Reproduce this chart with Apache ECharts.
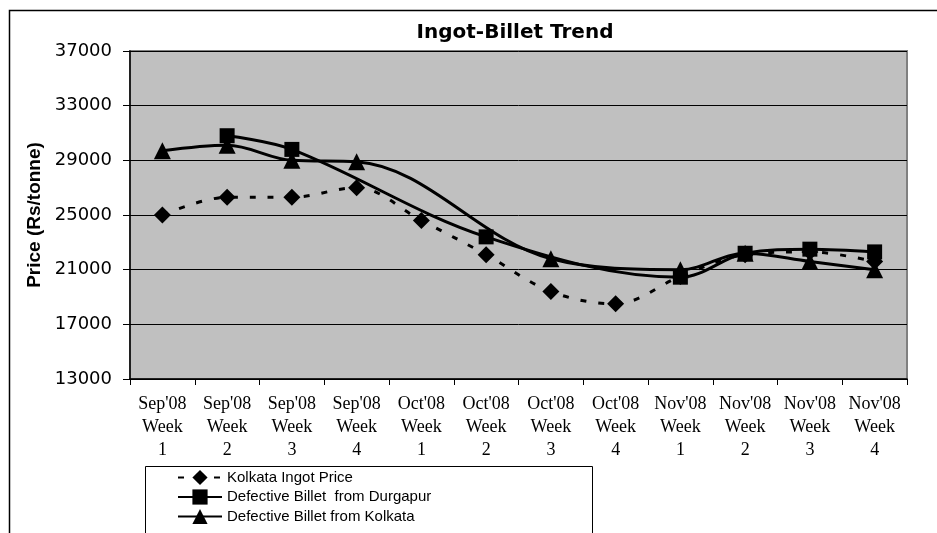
<!DOCTYPE html>
<html>
<head>
<meta charset="utf-8">
<script src="https://cdn.jsdelivr.net/npm/echarts@6/dist/echarts.min.js"></script>
<style>html,body{margin:0;padding:0;background:#fff;}#c{width:937px;height:533px;}</style>
</head>
<body>
<div id="c"></div>
<script>
const months = ["Sep'08","Sep'08","Sep'08","Sep'08","Oct'08","Oct'08","Oct'08","Oct'08","Nov'08","Nov'08","Nov'08","Nov'08"];
const weeks = [1,2,3,4,1,2,3,4,1,2,3,4];
const categories = months.map((m,i) => m + "\nWeek\n" + weeks[i]);
const seriesNames = ["Kolkata Ingot Price", "Defective Billet  from Durgapur", "Defective Billet from Kolkata"];
const kolkataIngot = [25000, 26300, 26300, 27000, 24600, 22100, 19400, 18500, 20500, 22100, 22300, 21600];
const durgapurBillet = [null, 30800, 29800, null, null, 23400, null, null, 20450, 22200, 22500, 22300];
const kolkataBillet = [29700, 30100, 29000, 28900, null, null, 21800, null, 21000, 22200, 21600, 21000];
const yTicks = {min: 13000, max: 37000, step: 4000};

const chart = echarts.init(document.getElementById('c'), null, {renderer: 'canvas'});
const axisFont = "'DejaVu Sans', sans-serif";
const line = (name, data, symbol, size, dashed) => ({
  name, type: 'line', data, connectNulls: true, smooth: 0.35,
  symbol, symbolSize: size, showSymbol: true,
  lineStyle: {color: '#000', width: 3, type: dashed ? [6, 12] : 'solid'},
  itemStyle: {color: '#000', borderColor: '#000', borderWidth: 0},
  emphasis: {disabled: true}
});
chart.setOption({
  animation: false,
  title: {
    text: 'Ingot-Billet Trend', left: 510, top: 18, textAlign: 'center',
    textStyle: {fontFamily: axisFont, fontWeight: 'bold', fontSize: 20, color: '#000'}
  },
  grid: {
    left: 130, right: 30, top: 51, bottom: 154, containLabel: false,
    show: true, backgroundColor: '#C0C0C0', borderColor: '#808080', borderWidth: 2
  },
  xAxis: {
    type: 'category', data: categories, boundaryGap: true,
    axisLine: {lineStyle: {color: '#000', width: 1.5}},
    axisTick: {show: true, length: 6, lineStyle: {color: '#000'}, alignWithLabel: false},
    axisLabel: {
      interval: 0, margin: 14, color: '#000', fontFamily: "'Liberation Serif', 'Times New Roman', serif",
      fontSize: 18, lineHeight: 23
    },
    splitLine: {show: false}
  },
  yAxis: {
    type: 'value', min: yTicks.min, max: yTicks.max, interval: yTicks.step,
    name: 'Price (Rs/tonne)', nameLocation: 'middle', nameGap: 84, nameRotate: 90,
    nameTextStyle: {fontFamily: "'Liberation Sans', Arial, sans-serif", fontWeight: 'bold', fontSize: 19, color: '#000'},
    axisLine: {show: true, lineStyle: {color: '#000', width: 1.5}},
    axisTick: {show: true, length: 7, lineStyle: {color: '#000'}},
    axisLabel: {margin: 18, color: '#000', fontFamily: axisFont, fontSize: 18, formatter: v => String(v)},
    splitLine: {show: true, lineStyle: {color: '#000', width: 1}}
  },
  legend: {
    orient: 'vertical', left: 177, top: 469, padding: 0,
    itemWidth: 44, itemHeight: 19, itemGap: 2.5,
    textStyle: {fontFamily: "'Liberation Sans', Arial, sans-serif", fontSize: 15, color: '#000', lineHeight: 17},
    data: seriesNames
  },
  graphic: [
    {type: 'rect', shape: {x: 9.5, y: 10.5, width: 1000, height: 1000}, style: {fill: 'none', stroke: '#000', lineWidth: 1.5}, silent: true, z: -10},
    {type: 'rect', shape: {x: 145.5, y: 466.5, width: 447, height: 100}, style: {fill: '#fff', stroke: '#000', lineWidth: 1}, silent: true, z: -5}
  ],
  series: [
    line(seriesNames[0], kolkataIngot, 'diamond', 17, true),
    line(seriesNames[1], durgapurBillet, 'rect', 15, false),
    line(seriesNames[2], kolkataBillet, 'triangle', 17, false)
  ]
});
</script>
</body>
</html>
